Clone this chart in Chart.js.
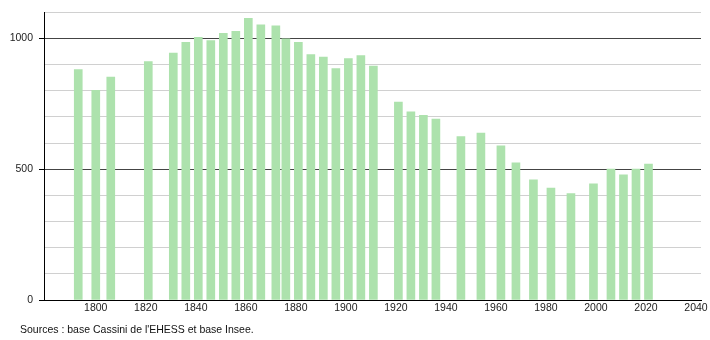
<!DOCTYPE html>
<html>
<head>
<meta charset="utf-8">
<script src="https://cdn.jsdelivr.net/npm/chart.js@4/dist/chart.umd.min.js"></script>
<style>
  html, body { margin: 0; padding: 0; background: #fff; }
  #wrap { position: relative; width: 710px; height: 340px; }
  #source {
    position: absolute; left: 20px; top: 323px;
    font: 10.5px "Liberation Sans", Arial, sans-serif; color: #111;
  }
</style>
</head>
<body>
<div id="wrap">
  <canvas id="popChart" width="710" height="340"></canvas>
  <div id="source">Sources : base Cassini de l'EHESS et base Insee.</div>
</div>
<script>
// années de recensement
const years = [1793, 1800, 1806, 1821, 1831, 1836, 1841, 1846, 1851, 1856,
  1861, 1866, 1872, 1876, 1881, 1886, 1891, 1896, 1901, 1906, 1911,
  1921, 1926, 1931, 1936, 1946, 1954, 1962, 1968, 1975, 1982, 1990,
  1999, 2006, 2011, 2016, 2021];
// population
const population = [881, 802, 852, 912, 944, 985, 1004, 992, 1020, 1027,
  1077, 1052, 1048, 999, 985, 938, 929, 885, 923, 935, 894,
  757, 719, 706, 692, 625, 638, 589, 524, 459, 428, 407,
  444, 501, 479, 501, 520];
const xTicks = [1800, 1820, 1840, 1860, 1880, 1900, 1920, 1940, 1960, 1980, 2000, 2020, 2040];
const yLabels = [0, 500, 1000];

const font = { family: '"Liberation Sans", Arial, sans-serif', size: 10.5 };

const ctx = document.getElementById('popChart').getContext('2d');
new Chart(ctx, {
  type: 'bar',
  data: {
    datasets: [{
      data: years.map((y, i) => ({ x: y, y: population[i] })),
      backgroundColor: '#ade2ad',
      borderWidth: 0,
      barThickness: 8
    }]
  },
  options: {
    responsive: false,
    animation: false,
    events: [],
    layout: { padding: { top: 11, right: 9, left: 0, bottom: 0 } },
    plugins: { legend: { display: false }, tooltip: { enabled: false } },
    scales: {
      x: {
        type: 'linear',
        offset: false,
        min: 1779.3,
        max: 2042,
        afterBuildTicks: axis => { axis.ticks = xTicks.map(v => ({ value: v })); },
        afterFit: axis => { axis.height = 40; },
        grid: { display: false, drawTicks: false },
        border: { color: '#000', width: 1 },
        ticks: {
          color: '#222', font: font, padding: 2, maxRotation: 0, autoSkip: false,
          callback: v => String(v)
        }
      },
      y: {
        min: 0,
        max: 1100,
        afterFit: axis => { axis.width = 44; },
        border: { color: '#000', width: 1 },
        grid: {
          color: c => (c.tick.value % 500 === 0 ? '#444' : '#d0d0d0'),
          tickColor: c => (c.tick.value % 500 === 0 ? '#000' : 'rgba(0,0,0,0)'),
          tickLength: 5
        },
        ticks: {
          stepSize: 100,
          color: '#222',
          font: font,
          padding: 6,
          callback: v => (yLabels.includes(v) ? String(v) : '')
        }
      }
    }
  }
});
</script>
</body>
</html>
